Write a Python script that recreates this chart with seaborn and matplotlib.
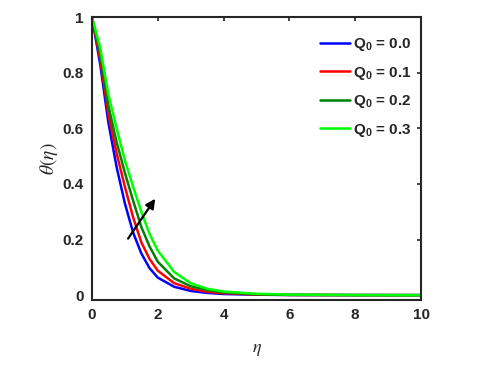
import numpy as np
import pandas as pd
import matplotlib
matplotlib.use('Agg')
import matplotlib.pyplot as plt
import seaborn as sns

# values
eta = [0, 0.25, 0.5, 0.75, 1.0, 1.25, 1.5, 1.75, 2.0, 2.5, 3.0, 3.5, 4.0, 5.0, 6.0, 8.0, 10.0]
theta_q00 = [1.0, 0.83, 0.62, 0.46, 0.33, 0.225, 0.15, 0.097, 0.063, 0.030, 0.015, 0.008, 0.004, 0.0015, 0.0005, 0.0001, 0.0]
theta_q01 = [1.0, 0.85, 0.65, 0.51, 0.39, 0.28, 0.19, 0.13, 0.088, 0.043, 0.023, 0.012, 0.007, 0.002, 0.0007, 0.0001, 0.0]
theta_q02 = [1.0, 0.87, 0.68, 0.55, 0.44, 0.34, 0.245, 0.175, 0.12, 0.060, 0.032, 0.018, 0.010, 0.003, 0.001, 0.0002, 0.0]
theta_q03 = [1.0, 0.89, 0.72, 0.60, 0.485, 0.39, 0.30, 0.22, 0.16, 0.083, 0.043, 0.023, 0.013, 0.005, 0.002, 0.0003, 0.0]
labels = ['Q$_0$ = 0.0', 'Q$_0$ = 0.1', 'Q$_0$ = 0.2', 'Q$_0$ = 0.3']
colors = ['#0000ff', '#ff0000', '#008000', '#00ff00']

rows = []
for lab, vals in zip(labels, [theta_q00, theta_q01, theta_q02, theta_q03]):
    for e, v in zip(eta, vals):
        rows.append({'eta': e, 'theta': v, 'Q0': lab})
df = pd.DataFrame(rows)

sns.set_style('white')
plt.rcParams['font.family'] = ['Liberation Sans', 'DejaVu Sans']
plt.rcParams['mathtext.fontset'] = 'custom'
plt.rcParams['mathtext.rm'] = 'Liberation Sans:bold'
plt.rcParams['mathtext.it'] = 'Liberation Sans:bold'

fig = plt.figure(figsize=(4.79, 3.71), dpi=100)
ax = fig.add_axes([0.192, 0.191, 0.687, 0.763])

sns.lineplot(data=df, x='eta', y='theta', hue='Q0', palette=colors, linewidth=1.8, ax=ax)

ax.annotate('', xy=(1.97, 0.355), xytext=(1.05, 0.195),
            arrowprops=dict(arrowstyle='-|>', color='black', lw=1.6, mutation_scale=14))

ax.set_xlim(0, 10)
ax.set_ylim(-0.018, 1.0)
ax.set_xticks([0, 2, 4, 6, 8, 10])
ax.set_yticks([0, 0.2, 0.4, 0.6, 0.8, 1])
ax.set_xticklabels(['0', '2', '4', '6', '8', '10'])
ax.set_yticklabels(['0', '0.2', '0.4', '0.6', '0.8', '1'])
ax.tick_params(direction='in', length=3, width=1.2, top=True, right=True,
               labelsize=11, colors='#262626', pad=6)
for t in ax.get_xticklabels() + ax.get_yticklabels():
    t.set_fontweight('bold')
for s in ax.spines.values():
    s.set_linewidth(1.5)
    s.set_color('#262626')

ax.set_xlabel(r'$\eta$', fontsize=13, labelpad=13)
ax.set_ylabel(r'$\theta(\eta)$', fontsize=14, labelpad=2)
ax.xaxis.label.set_math_fontfamily('stix')
ax.yaxis.label.set_math_fontfamily('stix')

leg = ax.legend(loc='upper right', bbox_to_anchor=(1.03, 1.0), frameon=False,
                handlelength=2.0, handletextpad=0.2, labelspacing=0.75,
                borderaxespad=0.85, prop={'size': 11, 'weight': 'bold'})

fig.savefig('out.png', dpi=100)
